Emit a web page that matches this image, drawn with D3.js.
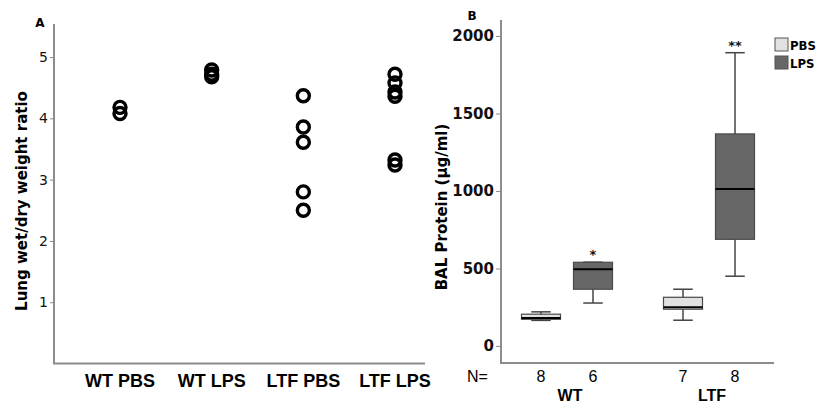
<!DOCTYPE html>
<html>
<head>
<meta charset="utf-8">
<script src="https://cdn.jsdelivr.net/npm/d3@7"></script>
<style>
  body { margin: 0; background: #fff; }
  svg { display: block; }
  .axis path, .axis line { stroke: #8c8c8c; }
</style>
</head>
<body>
<svg id="chart" width="817" height="409"></svg>
<script>
// panel A: wet/dry ratio per group
var groupsA = ["WT PBS", "WT LPS", "LTF PBS", "LTF LPS"];
var wtPbs = [4.18, 4.08];
var wtLps = [4.79, 4.72, 4.68];
var ltfPbs = [4.37, 3.86, 3.61, 2.80, 2.50];
var ltfLps = [4.72, 4.58, 4.43, 4.36, 3.32, 3.24];
var ticksA = [1, 2, 3, 4, 5];

// panel B: BAL protein boxplots
var groupsB = ["WT", "LTF"];
var treatments = ["PBS", "LPS"];
var boxMin = [165, 277, 166, 450];
var boxQ1 = [172, 366, 237, 688];
var boxMed = [180, 495, 250, 1013];
var boxQ3 = [205, 540, 314, 1368];
var boxMax = [220, 540, 366, 1892];
var nCounts = [8, 6, 7, 8];
var stars = ["", "*", "", "**"];
var ticksB = [0, 500, 1000, 1500, 2000];

var fills = {PBS: "#e1e1e1", LPS: "#676767"};

var svg = d3.select("#chart");

// ---------- panel A ----------
var xA = d3.scalePoint().domain(groupsA).range([120, 395]);
var yA = d3.scaleLinear().domain([0, 5.54]).range([363.5, 24]);

var gA = svg.append("g");
gA.append("g").attr("class", "axis")
    .attr("transform", "translate(54,0)")
    .call(d3.axisLeft(yA).tickValues(ticksA).tickFormat(d3.format("d"))
        .tickSize(4).tickSizeOuter(0).tickPadding(2))
    .call(g => g.select(".domain").attr("d", `M0,${yA.range()[1]}V${yA.range()[0]}`).attr("stroke-width", 2))
    .call(g => g.selectAll("text").attr("font-family", "DejaVu Sans").attr("font-size", 14).attr("fill", "#111"));

gA.append("line")
    .attr("x1", 53).attr("x2", 425)
    .attr("y1", yA(0)).attr("y2", yA(0))
    .attr("stroke", "#8c8c8c").attr("stroke-width", 2);

var pointsA = [];
[wtPbs, wtLps, ltfPbs, ltfLps].forEach(function (vals, i) {
    vals.forEach(v => pointsA.push({group: groupsA[i], value: v}));
});

gA.selectAll(".dot")
    .data(pointsA)
    .enter().append("circle")
    .attr("cx", d => xA(d.group))
    .attr("cy", d => yA(d.value))
    .attr("r", 6)
    .attr("fill", "none")
    .attr("stroke", "#000")
    .attr("stroke-width", 3.4);

gA.selectAll(".catlabel")
    .data(groupsA)
    .enter().append("text")
    .attr("x", d => xA(d))
    .attr("y", 387)
    .attr("text-anchor", "middle")
    .attr("font-family", "Liberation Sans, Arial, sans-serif")
    .attr("font-weight", "bold")
    .attr("font-size", 18)
    .text(d => d);

gA.append("text")
    .attr("transform", "translate(27,201) rotate(-90)")
    .attr("text-anchor", "middle")
    .attr("font-family", "DejaVu Sans")
    .attr("font-weight", "bold")
    .attr("font-size", 15)
    .text("Lung wet/dry weight ratio");

gA.append("text")
    .attr("x", 40).attr("y", 27)
    .attr("text-anchor", "middle")
    .attr("font-family", "DejaVu Sans")
    .attr("font-weight", "bold")
    .attr("font-size", 12)
    .text("A");

// ---------- panel B ----------
var yB = d3.scaleLinear().domain([-110, 2103]).range([363, 20]);
var x0 = d3.scalePoint().domain(groupsB).range([567, 709]);
var x1 = d3.scalePoint().domain(treatments).range([-26, 26]);
var bw = 39;

var gB = svg.append("g");
gB.append("g").attr("class", "axis")
    .attr("transform", "translate(501,0)")
    .call(d3.axisLeft(yB).tickValues(ticksB).tickFormat(d3.format("d"))
        .tickSize(5).tickSizeOuter(0).tickPadding(2))
    .call(g => g.select(".domain").attr("d", `M0,${yB.range()[1]}V${yB.range()[0]}`).attr("stroke-width", 2))
    .call(g => g.selectAll("text").attr("font-family", "DejaVu Sans").attr("font-weight", "bold")
        .attr("font-size", 15).attr("fill", "#111"));

gB.append("line")
    .attr("x1", 500).attr("x2", 774)
    .attr("y1", 363).attr("y2", 363)
    .attr("stroke", "#8c8c8c").attr("stroke-width", 2);

var boxes = [];
groupsB.forEach(function (g, gi) {
    treatments.forEach(function (t, ti) {
        var i = gi * 2 + ti;
        boxes.push({group: g, treat: t, min: boxMin[i], q1: boxQ1[i], med: boxMed[i],
            q3: boxQ3[i], max: boxMax[i], n: nCounts[i], star: stars[i]});
    });
});

var box = gB.selectAll(".box")
    .data(boxes)
    .enter().append("g")
    .attr("transform", d => `translate(${x0(d.group) + x1(d.treat) - bw / 2},0)`);

box.append("line")
    .attr("x1", bw / 2).attr("x2", bw / 2)
    .attr("y1", d => yB(d.max)).attr("y2", d => yB(d.min))
    .attr("stroke", "#444").attr("stroke-width", 1.5);

box.append("line")
    .attr("x1", bw / 4).attr("x2", bw * 3 / 4)
    .attr("y1", d => yB(d.max)).attr("y2", d => yB(d.max))
    .attr("stroke", "#444").attr("stroke-width", 1.5);

box.append("line")
    .attr("x1", bw / 4).attr("x2", bw * 3 / 4)
    .attr("y1", d => yB(d.min)).attr("y2", d => yB(d.min))
    .attr("stroke", "#444").attr("stroke-width", 1.5);

box.append("rect")
    .attr("x", 0).attr("width", bw)
    .attr("y", d => yB(d.q3))
    .attr("height", d => yB(d.q1) - yB(d.q3))
    .attr("fill", d => fills[d.treat])
    .attr("stroke", "#4a4a4a").attr("stroke-width", 1.2);

box.append("line")
    .attr("x1", 0).attr("x2", bw)
    .attr("y1", d => yB(d.med)).attr("y2", d => yB(d.med))
    .attr("stroke", "#000").attr("stroke-width", 2);

box.append("text")
    .attr("x", bw / 2)
    .attr("y", d => yB(d.max) - 3)
    .attr("text-anchor", "middle")
    .attr("font-family", "DejaVu Sans")
    .attr("font-weight", "bold")
    .attr("font-size", 13)
    .attr("fill", "#111")
    .text(d => d.star);

box.append("text")
    .attr("x", bw / 2)
    .attr("y", 382)
    .attr("text-anchor", "middle")
    .attr("font-family", "Liberation Sans, Arial, sans-serif")
    .attr("font-size", 16)
    .text(d => d.n);

gB.append("text")
    .attr("x", 467).attr("y", 382)
    .attr("font-family", "Liberation Sans, Arial, sans-serif")
    .attr("font-size", 16)
    .text("N=");

gB.selectAll(".grp")
    .data(groupsB)
    .enter().append("text")
    .attr("x", d => x0(d) + 3)
    .attr("y", 401)
    .attr("text-anchor", "middle")
    .attr("font-family", "Liberation Sans, Arial, sans-serif")
    .attr("font-weight", "bold")
    .attr("font-size", 16)
    .text(d => d);

gB.append("text")
    .attr("transform", "translate(447,207) rotate(-90)")
    .attr("text-anchor", "middle")
    .attr("font-family", "DejaVu Sans")
    .attr("font-weight", "bold")
    .attr("font-size", 15)
    .text("BAL Protein (\u03bcg/ml)");

gB.append("text")
    .attr("x", 472).attr("y", 20)
    .attr("text-anchor", "middle")
    .attr("font-family", "DejaVu Sans")
    .attr("font-weight", "bold")
    .attr("font-size", 12)
    .text("B");

// legend
var legend = gB.selectAll(".leg")
    .data(treatments)
    .enter().append("g")
    .attr("transform", (d, i) => `translate(775,${38 + i * 18})`);

legend.append("rect")
    .attr("width", 13).attr("height", 13)
    .attr("fill", d => fills[d])
    .attr("stroke", "#555").attr("stroke-width", 1);

legend.append("text")
    .attr("x", 15).attr("y", 12)
    .attr("font-family", "Liberation Sans Narrow, DejaVu Sans Condensed, sans-serif")
    .attr("font-weight", "bold")
    .attr("font-size", 13)
    .text(d => d);
</script>
</body>
</html>
